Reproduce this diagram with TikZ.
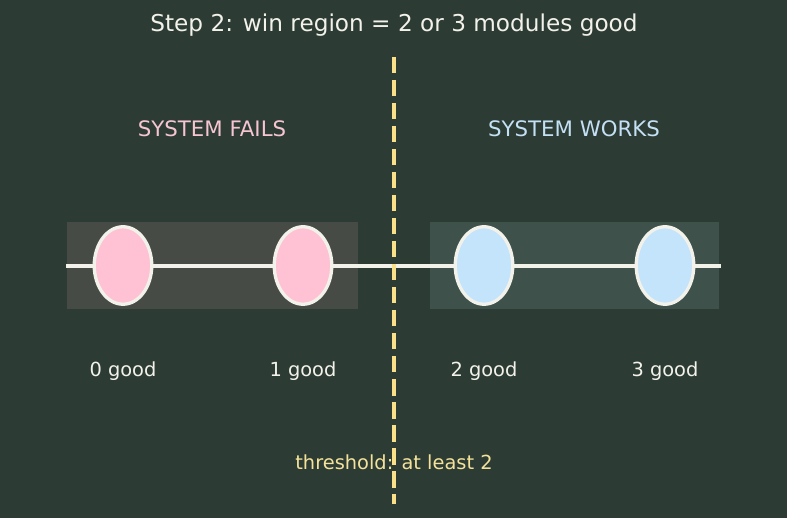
\documentclass[tikz,border=0pt]{standalone}
\usepackage{fontspec}
\setmainfont{DejaVu Sans}
\usetikzlibrary{shapes.geometric}
\definecolor{fondo}{HTML}{2C3B34}
\definecolor{tinta}{HTML}{F2F2EA}
\definecolor{rosa}{HTML}{FFC2D4}
\definecolor{celeste}{HTML}{C4E4FC}
\definecolor{rosatxt}{HTML}{F5C6D2}
\definecolor{celestetxt}{HTML}{C4E0F4}
\definecolor{amarillo}{HTML}{FBE08A}
\definecolor{amarillotxt}{HTML}{F4E29A}
\definecolor{cajafalla}{HTML}{464C45}
\definecolor{cajaok}{HTML}{3E514B}
\tikzset{
  modulo/.style={ellipse,draw=tinta,line width=3.3pt,minimum width=57.5pt,minimum height=77.5pt,inner sep=0pt},
  etiqueta/.style={font=\fontsize{19.4}{22}\selectfont,text=tinta},
  zona/.style={font=\fontsize{21.3}{24}\selectfont}
}
\begin{document}
\begin{tikzpicture}[x=1pt,y=-1pt]
    % Fondo y marco fijo del lienzo.
    \fill[fondo] (0,0) rectangle (787,518);
    \useasboundingbox (0,0) rectangle (787,518);
    \node[font=\fontsize{23.2}{26}\selectfont,text=tinta] (titulo) at (394,25.5) {Step 2: win region = 2 or 3 modules good};
    \node[zona,text=rosatxt] (falla) at (212,129) {SYSTEM FAILS};
    \node[zona,text=celestetxt] (funciona) at (574,129) {SYSTEM WORKS};
    \fill[cajafalla] (67,222) rectangle (358,309);
    \fill[cajaok] (430,222) rectangle (719,309);
    \coordinate (ini) at (66,265.8);
    \coordinate (fin) at (721,265.8);
    \draw[tinta,line width=3.8pt] (ini) -- (fin);
    \foreach \i/\x/\col in {0/123/rosa,1/303/rosa,2/484/celeste,3/665/celeste} {
      \node[modulo,fill=\col] (m\i) at (\x,265.5) {};
      \node[etiqueta] (n\i) at (\x,371) {\i\ good};
    }
    \node[etiqueta,text=amarillotxt] (umbral) at (394,462) {threshold: at least 2};
    % La línea de corte va encima del texto.
    \coordinate (corte-a) at (394,57);
    \coordinate (corte-b) at (394,504);
    \draw[amarillo,line width=3.6pt,dash pattern=on 16.5pt off 6.5pt] (corte-a) -- (corte-b);
  \end{tikzpicture}
\end{document}
